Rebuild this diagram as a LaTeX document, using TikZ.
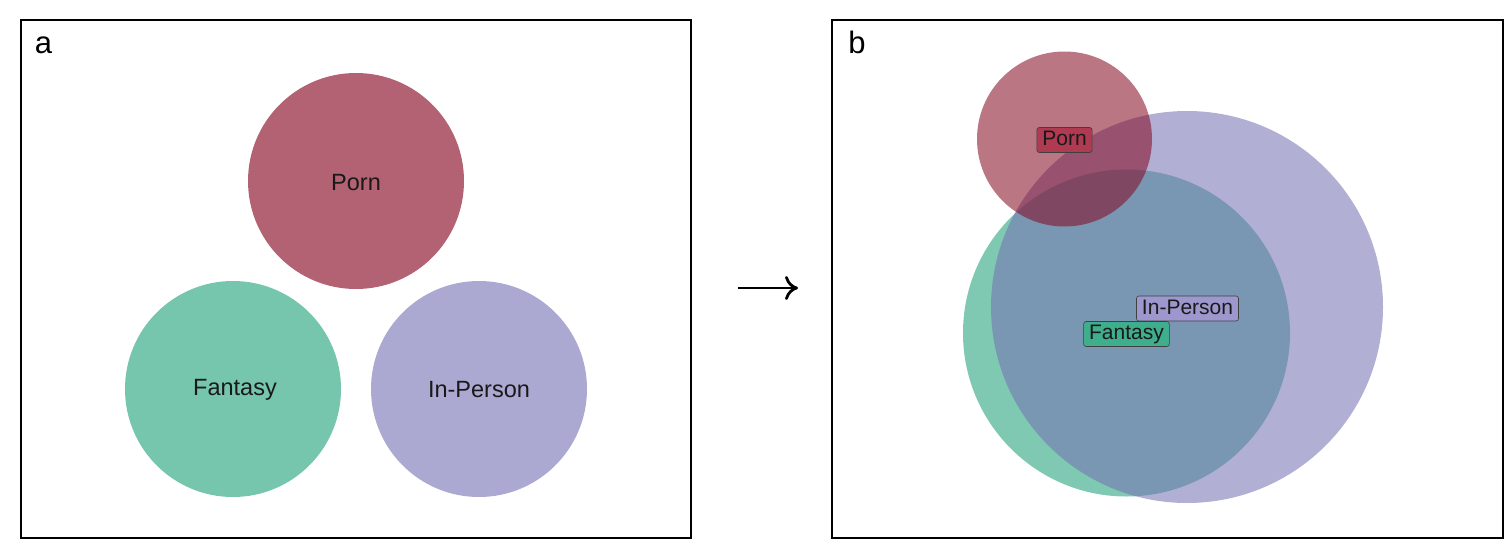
\documentclass[tikz,border=0pt]{standalone}
\usepackage{fontspec}
\setmainfont{Liberation Sans}
\usetikzlibrary{arrows.meta}
\begin{document}
\begin{tikzpicture}[x=1pt,y=-1pt,
  panel/.style={draw=black,line width=1.8pt},
  pornA/.style={fill=porncA},
  fantA/.style={fill=fantcA},
  inpA/.style={fill=inpcA},
  lblA/.style={font=\fontsize{23.5}{26}\selectfont,text=black!90},
  pnl/.style={font=\fontsize{31}{34}\selectfont,text=black,inner sep=0pt,anchor=base},
  venn/.style={fill opacity=0.56},
  tag/.style={draw=black!75,line width=0.6pt,rounded corners=2.5pt,inner xsep=5.5pt,inner ysep=2.5pt,font=\fontsize{21}{23}\selectfont,text=black!90,text height=15.5pt,text depth=4.5pt}
]
\definecolor{porncA}{HTML}{B26272}
\definecolor{fantcA}{HTML}{76C5AD}
\definecolor{inpcA}{HTML}{ABA9D1}
\definecolor{pornB}{HTML}{840A22}
\definecolor{fantB}{HTML}{1B9E77}
\definecolor{inpB}{HTML}{7570B3}
\definecolor{porntag}{HTML}{B03A52}
\definecolor{fanttag}{HTML}{3EAE8C}
\definecolor{inptag}{HTML}{9C98CE}
\useasboundingbox (0,0) rectangle (1512,546);
% panel a
\draw[panel] (21,20) rectangle (691,538);
\node[pnl] (la) at (43.5,53) {a};
\fill[pornA] (356,181) circle (108pt);
\fill[fantA] (233,389) circle (108pt);
\fill[inpA] (479,389) circle (108pt);
\node[lblA] (tporn) at (356,183) {Porn};
\node[lblA] (tfant) at (235,390) {Fantasy};
\node[lblA] (tinp) at (479,390) {In-Person};
% arrow
\coordinate (arrs) at (738,288);
\coordinate (arre) at (798,288);
\draw[line width=2.8pt,-{Computer Modern Rightarrow[length=13pt,width=24pt,line width=2.8pt]}] (arrs) -- (arre);
% panel b
\draw[panel] (832,20) rectangle (1503,538);
\node[pnl] (lb) at (857,53) {b};
\fill[fantB,venn] (1126.5,333) circle (163.5pt);
\fill[inpB,venn] (1187,307) circle (196pt);
\fill[pornB,venn] (1064.5,139) circle (87.5pt);
\node[tag,fill=porntag] (gporn) at (1064.5,140) {Porn};
\node[tag,fill=inptag] (ginp) at (1187.5,308.5) {In-Person};
\node[tag,fill=fanttag] (gfant) at (1126.5,334) {Fantasy};
\end{tikzpicture}
\end{document}
